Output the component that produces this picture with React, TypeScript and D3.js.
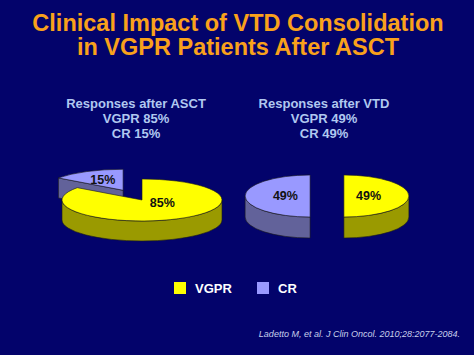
import React from "react";
import * as d3 from "d3";

const titleLines = ["Clinical Impact of VTD Consolidation", "in VGPR Patients After ASCT"];
const categories = ["VGPR", "CR"];
const pieTitles = ["Responses after ASCT", "Responses after VTD"];
const afterASCT = [85, 15];
const afterVTD = [49, 49];
const citation = "Ladetto M, et al. J Clin Oncol. 2010;28:2077-2084.";

const W = 474;
const H = 355;
const BG = "#03036b";
const TOP_COLORS = ["#ffff00", "#9999ff"];
const SIDE_COLORS = ["#9a9a00", "#62629a"];
const FONT = "'Liberation Sans', Arial, sans-serif";

type PieCfg = {
  values: number[];
  title: string;
  cx: number;
  cy: number;
  rx: number;
  ry: number;
  depth: number;
  explode: number[];
  kx: number;
  ky: number;
  ldy: number;
  titleX: number;
};

const pies: PieCfg[] = [
  { values: afterASCT, title: pieTitles[0], cx: 142, cy: 200, rx: 80, ry: 21, depth: 20, explode: [0, 0.52], kx: 0.56, ky: 0.36, ldy: -4, titleX: 136 },
  { values: afterVTD, title: pieTitles[1], cx: 327, cy: 196, rx: 65, ry: 21, depth: 21, explode: [0.26, 0.26], kx: 0.38, ky: 0.3, ldy: -0.5, titleX: 324 },
];

function pt(cx: number, cy: number, rx: number, ry: number, a: number): [number, number] {
  return [cx + rx * Math.sin(a), cy - ry * Math.cos(a)];
}

function Pie3D({ cfg }: { cfg: PieCfg }) {
  const arcs = d3.pie<number>().sort(null).value((d) => d)(cfg.values);
  const { rx, ry, depth } = cfg;
  const slices = arcs.map((a, i) => {
    const mid = (a.startAngle + a.endAngle) / 2;
    const e = cfg.explode[i] || 0;
    const cx = cfg.cx + e * rx * Math.sin(mid);
    const cy = cfg.cy - e * ry * Math.cos(mid);
    return { a, i, mid, cx, cy };
  });
  const order = [...slices].sort((p, q) => (p.cy - ry * Math.cos(p.mid)) - (q.cy - ry * Math.cos(q.mid)));
  const stroke = "#1a1a1a";
  const sw = 0.6;
  return (
    <g>
      {order.map(({ a, i, mid, cx, cy }) => {
        const s = a.startAngle;
        const en = a.endAngle;
        const faces: React.ReactNode[] = [];
        const radial = (ang: number, key: string) => {
          const [ex, ey] = pt(cx, cy, rx, ry, ang);
          faces.push(
            <path key={key} d={`M${cx},${cy}L${ex},${ey}L${ex},${ey + depth}L${cx},${cy + depth}Z`} fill={SIDE_COLORS[i]} stroke={stroke} strokeWidth={sw} strokeLinejoin="round" />
          );
        };
        if (-Math.sin(s) > 1e-6) radial(s, "rs");
        if (Math.sin(en) > 1e-6) radial(en, "re");
        const a0 = Math.max(s, Math.PI / 2);
        const a1 = Math.min(en, (3 * Math.PI) / 2);
        if (a1 > a0 + 1e-6) {
          const [x0, y0] = pt(cx, cy, rx, ry, a0);
          const [x1, y1] = pt(cx, cy, rx, ry, a1);
          faces.push(
            <path key="wall" d={`M${x0},${y0}A${rx},${ry} 0 0 1 ${x1},${y1}L${x1},${y1 + depth}A${rx},${ry} 0 0 0 ${x0},${y0 + depth}Z`} fill={SIDE_COLORS[i]} stroke={stroke} strokeWidth={sw} strokeLinejoin="round" />
          );
        }
        const [sx, sy] = pt(cx, cy, rx, ry, s);
        const [tx, ty] = pt(cx, cy, rx, ry, en);
        const large = en - s > Math.PI ? 1 : 0;
        const lx = cx + cfg.kx * rx * Math.sin(mid);
        const ly = cy - cfg.ky * ry * Math.cos(mid) + cfg.ldy;
        return (
          <g key={i}>
            {faces}
            <path d={`M${cx},${cy}L${sx},${sy}A${rx},${ry} 0 ${large} 1 ${tx},${ty}Z`} fill={TOP_COLORS[i]} stroke={stroke} strokeWidth={sw} strokeLinejoin="round" />
            <text x={lx} y={ly} dy="0.35em" textAnchor="middle" fontFamily={FONT} fontWeight="bold" fontSize={12.5} fill="#111">
              {`${a.data}%`}
            </text>
          </g>
        );
      })}
    </g>
  );
}

export default function App() {
  return (
    <svg width={W} height={H} style={{ position: "absolute", left: 0, top: 0, display: "block" }}>
      <rect x={0} y={0} width={W} height={H} fill={BG} />
      {titleLines.map((t, i) => (
        <text key={t} x={238} y={31 + i * 23.5} textAnchor="middle" fontFamily={FONT} fontWeight="bold" fontSize={23.5} fill="#f9a11b">
          {t}
        </text>
      ))}
      {pies.map((p, pi) => {
        const lines = [p.title, ...categories.map((c, i) => `${c} ${p.values[i]}%`)];
        return (
          <g key={pi}>
            {lines.map((l, li) => (
              <text key={li} x={p.titleX} y={108 + li * 15} textAnchor="middle" fontFamily={FONT} fontWeight="bold" fontSize={13} fill="#b0c8f0">
                {l}
              </text>
            ))}
            <Pie3D cfg={p} />
          </g>
        );
      })}
      {categories.map((c, i) => (
        <g key={c} transform={`translate(${[174, 257][i]},282)`}>
          <rect x={0} y={0} width={12} height={12} fill={TOP_COLORS[i]} />
          <text x={21} y={10.5} fontFamily={FONT} fontWeight="bold" fontSize={13} fill="#ffffff">
            {c}
          </text>
        </g>
      ))}
      <text x={460} y={337} textAnchor="end" fontFamily={FONT} fontStyle="italic" fontSize={9} fill="#c8d0ec">
        {citation}
      </text>
    </svg>
  );
}
